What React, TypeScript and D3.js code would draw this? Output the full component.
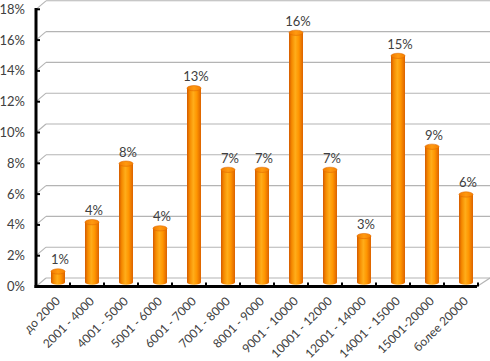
import React from 'react';
import * as d3 from 'd3';

// категории дохода и доли
const categories = [
  'до 2000', '2001 - 4000', '4001 - 5000', '5001 - 6000', '6001 - 7000',
  '7001 - 8000', '8001 - 9000', '9001 - 10000', '10001 - 12000',
  '12001 - 14000', '14001 - 15000', '15001-20000', 'более 20000',
];
const values = [0.7, 3.9, 7.7, 3.5, 12.6, 7.3, 7.3, 16.2, 7.3, 3.0, 14.7, 8.8, 5.7];
const yTicks = [0, 2, 4, 6, 8, 10, 12, 14, 16, 18];

const W = 490;
const H = 361;
const DX = 10; // глубина 3D
const DY = -8.5;
const FONT = 'Lato, "Open Sans", sans-serif';

const App = () => {
  const x = d3.scaleBand<string>().domain(categories).range([36, 478]).padding(0);
  const y = d3.scaleLinear().domain([0, 18]).range([286.5, 9.3]);
  const bw = 14;
  const ry = 2.6;

  const yFloor = y(0);

  return (
    <svg width={W} height={H} style={{ position: 'absolute', left: 0, top: 0, background: '#fff' }}>
      <defs>
        <linearGradient id="cyl" x1="0" x2="1" y1="0" y2="0">
          <stop offset="0" stopColor="#d45a00" />
          <stop offset="0.2" stopColor="#f58a00" />
          <stop offset="0.45" stopColor="#ffad1a" />
          <stop offset="0.7" stopColor="#ff9500" />
          <stop offset="1" stopColor="#dc6200" />
        </linearGradient>
        <linearGradient id="cap" x1="0" x2="1" y1="0" y2="0">
          <stop offset="0" stopColor="#f07a00" />
          <stop offset="0.5" stopColor="#ff9a10" />
          <stop offset="1" stopColor="#f58000" />
        </linearGradient>
      </defs>

      {/* сетка: задняя стенка + диагональ на боковой стенке */}
      {yTicks.map(t => (
        <g key={t} stroke="#b4b4b4" strokeWidth={1.1} fill="none">
          <line x1={36} y1={y(t)} x2={36 + DX} y2={y(t) + DY} />
          <line x1={36 + DX} y1={y(t) + DY} x2={W} y2={y(t) + DY} />
        </g>
      ))}
      {/* правый край пола */}
      <line x1={477} y1={yFloor} x2={477 + DX + 3} y2={yFloor + DY} stroke="#b4b4b4" strokeWidth={1.1} />

      {/* столбики-цилиндры */}
      {values.map((v, i) => {
        const cx = (x(categories[i]) as number) + x.bandwidth() / 2 + DX / 2;
        const yb = y(0) + DY / 2;
        const yt = y(v) + DY / 2;
        return (
          <g key={categories[i]}>
            <ellipse cx={cx} cy={yb} rx={bw / 2} ry={ry} fill="url(#cyl)" />
            <rect x={cx - bw / 2} y={yt} width={bw} height={yb - yt} fill="url(#cyl)" />
            <ellipse cx={cx} cy={yt} rx={bw / 2} ry={ry} fill="url(#cap)" stroke="#e06a00" strokeWidth={0.6} />
            <text x={cx + 2} y={yt - 7} textAnchor="middle" fontFamily={FONT} fontSize={13} fill="#404040">
              {Math.round(v)}%
            </text>
          </g>
        );
      })}

      {/* оси */}
      <line x1={36} y1={8} x2={36} y2={yFloor + 1.5} stroke="#000" strokeWidth={3} />
      <line x1={34.5} y1={yFloor} x2={477} y2={yFloor} stroke="#000" strokeWidth={3} />
      {yTicks.map(t => (
        <line key={t} x1={36} y1={y(t)} x2={40} y2={y(t)} stroke="#000" strokeWidth={2} />
      ))}
      {categories.map(c => (
        <line key={c} x1={(x(c) as number) + x.bandwidth()} y1={yFloor} x2={(x(c) as number) + x.bandwidth()} y2={yFloor - 4} stroke="#000" strokeWidth={2} />
      ))}

      {/* подписи оси Y */}
      {yTicks.map(t => (
        <text key={t} x={25} y={y(t)} dy="0.35em" textAnchor="end" fontFamily={FONT} fontSize={13} fill="#404040">
          {t}%
        </text>
      ))}

      {/* подписи категорий */}
      {categories.map(c => {
        const px = (x(c) as number) + x.bandwidth() / 2 + 2;
        const py = 296;
        return (
          <text key={c} transform={`translate(${px},${py}) rotate(-45)`} textAnchor="end" dy="0.7em"
            fontFamily={FONT} fontSize={12} fill="#404040">
            {c}
          </text>
        );
      })}
    </svg>
  );
};

export default App;
